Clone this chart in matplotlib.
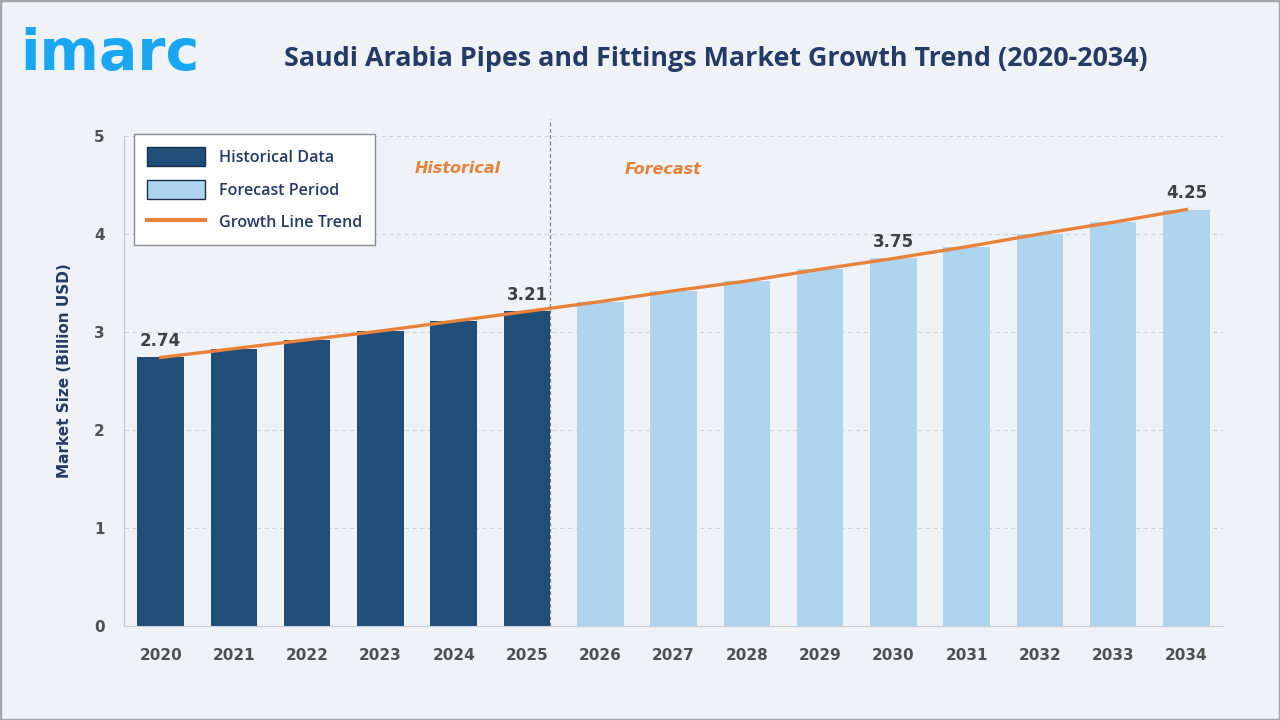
import matplotlib.pyplot as plt
from matplotlib.patches import Patch, Rectangle
from matplotlib.lines import Line2D

# ── Datos ────────────────────────────────────────────────────────────────────
years = [str(y) for y in range(2020, 2035)]
hist_values = [2.74, 2.83, 2.92, 3.01, 3.11, 3.21]
fcst_values = [3.31, 3.42, 3.52, 3.64, 3.75, 3.87, 4.00, 4.12, 4.25]
labeled_years = {"2020": "2.74", "2025": "3.21", "2030": "3.75", "2034": "4.25"}
y_ticks = [0, 1, 2, 3, 4, 5]

values = hist_values + fcst_values

# ── Estilos ──────────────────────────────────────────────────────────────────
BG = "#EFF3F8"
NAVY = "#1F4E79"
LIGHT = "#AED4EE"
ORANGE = "#E8813A"
TITLE_C = "#253A66"
TICK_C = "#505050"

fig = plt.figure(figsize=(12.8, 7.2), dpi=100, facecolor=BG)
fig.patches.append(Rectangle((0, 0), 1, 1, transform=fig.transFigure,
                             fill=False, edgecolor="#A6A6A6", linewidth=2.5))

ax = fig.add_axes([0.0969, 0.1306, 0.8586, 0.6805])
ax.set_facecolor("none")

x = list(range(len(years)))
n_hist = len(hist_values)
ax.bar(x[:n_hist], hist_values, width=0.635, color=NAVY, zorder=2)
ax.bar(x[n_hist:], fcst_values, width=0.635, color=LIGHT, zorder=2)
ax.plot(x, values, color=ORANGE, linewidth=2.4, zorder=3)

for i, yr in enumerate(years):
    if yr in labeled_years:
        ax.text(i, values[i] + 0.08, labeled_years[yr], ha="center", va="bottom",
                fontsize=12, fontweight="bold", color="#404040", zorder=4)

# línea divisoria histórico / pronóstico
ax.axvline(n_hist - 1 + 0.32, ymin=0, ymax=1.035, color="#808080",
           linestyle=(0, (3, 2)), linewidth=0.9, clip_on=False, zorder=1)
ax.text(4.05, 4.67, "Historical", ha="center", va="center", fontsize=11.5,
        fontweight="bold", style="italic", color=ORANGE)
ax.text(6.85, 4.66, "Forecast", ha="center", va="center", fontsize=11.5,
        fontweight="bold", style="italic", color=ORANGE)

ax.set_xlim(-0.5, 14.5)
ax.set_ylim(0, 5)
ax.set_xticks(x)
ax.set_xticklabels(years)
ax.set_yticks(y_ticks)
ax.tick_params(axis="both", length=0, labelsize=11, labelcolor=TICK_C)
ax.tick_params(axis="x", pad=16)
ax.tick_params(axis="y", pad=14)
for lbl in ax.get_xticklabels() + ax.get_yticklabels():
    lbl.set_fontweight("bold")

ax.grid(axis="y", color="#D0D4DA", linestyle=(0, (4, 3)), linewidth=0.8, zorder=0)
for side in ["top", "right"]:
    ax.spines[side].set_visible(False)
ax.spines["left"].set_color("#C0C0C0")
ax.spines["bottom"].set_color("#C8CDD4")

ax.set_ylabel("Market Size (Billion USD)", fontsize=11, fontweight="bold",
              color=TITLE_C)
ax.yaxis.set_label_coords(-0.0475, 0.522)

handles = [
    Patch(facecolor=NAVY, edgecolor="#1A2E4A", label="Historical Data"),
    Patch(facecolor=LIGHT, edgecolor="#1A2E4A", label="Forecast Period"),
    Line2D([0], [0], color=ORANGE, linewidth=3, label="Growth Line Trend"),
]
leg = ax.legend(handles=handles, loc="upper left", bbox_to_anchor=(0.009, 1.004),
                borderaxespad=0, fancybox=False, framealpha=1, edgecolor="#8A8A8A",
                handlelength=3.6, handleheight=1.45,
                labelspacing=0.85, borderpad=0.8, handletextpad=0.9,
                prop={"family": "Open Sans", "weight": "semibold", "size": 11.6})
for t in leg.get_texts():
    t.set_color(TITLE_C)
leg.get_frame().set_linewidth(1.0)

# ── Cabecera ─────────────────────────────────────────────────────────────────
fig.text(0.0155, 0.903, "imarc", fontsize=41, fontweight="bold", family="DejaVu Sans",
         color="#1BA6F2", ha="left", va="baseline")
fig.text(0.559, 0.918, "Saudi Arabia Pipes and Fittings Market Growth Trend (2020-2034)",
         fontsize=19.4, fontweight="bold", family="Open Sans", color=TITLE_C,
         ha="center", va="center")

plt.savefig("out.png", dpi=100, facecolor=BG)
